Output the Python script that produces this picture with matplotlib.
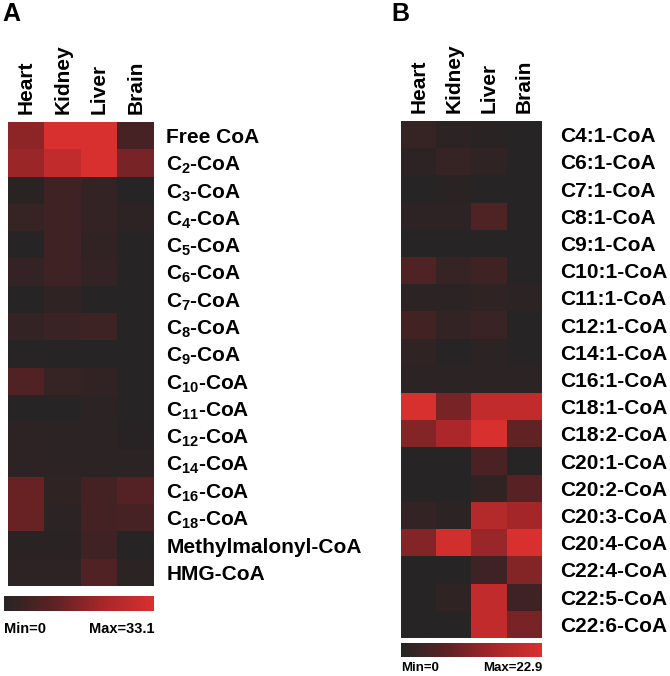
import numpy as np
import matplotlib
matplotlib.use("Agg")
import matplotlib.pyplot as plt
from matplotlib.colors import LinearSegmentedColormap

plt.rcParams['font.family'] = ['Liberation Sans', 'DejaVu Sans']
plt.rcParams['font.weight'] = 'bold'
plt.rcParams['mathtext.fontset'] = 'custom'
plt.rcParams['mathtext.rm'] = 'Liberation Sans:bold'
plt.rcParams['mathtext.bf'] = 'Liberation Sans:bold'
plt.rcParams['mathtext.default'] = 'bf'

tissues = ['Heart', 'Kidney', 'Liver', 'Brain']

# Panel A: short chain acyl-CoAs (Max=33.1)
rows_a = ['Free CoA', r'C$_{2}$-CoA', r'C$_{3}$-CoA', r'C$_{4}$-CoA', r'C$_{5}$-CoA',
          r'C$_{6}$-CoA', r'C$_{7}$-CoA', r'C$_{8}$-CoA', r'C$_{9}$-CoA', r'C$_{10}$-CoA',
          r'C$_{11}$-CoA', r'C$_{12}$-CoA', r'C$_{14}$-CoA', r'C$_{16}$-CoA', r'C$_{18}$-CoA',
          'Methylmalonyl-CoA', 'HMG-CoA']
heart_a  = [18.0, 20.0, 0.7, 3.3, 0.0, 2.6, 0.0, 2.6, 0.0, 8.3, 0.0, 1.7, 1.7, 12.6, 12.6, 1.0, 1.7]
kidney_a = [33.1, 28.0, 5.0, 5.0, 5.0, 5.0, 2.0, 4.0, 0.0, 3.3, 0.0, 1.3, 1.3, 2.0, 1.3, 1.0, 1.7]
liver_a  = [33.1, 33.1, 2.6, 2.6, 2.3, 2.6, 0.0, 4.6, 0.0, 2.3, 1.3, 1.3, 1.3, 6.0, 6.0, 5.0, 8.3]
brain_a  = [6.6, 15.0, 0.0, 1.7, 0.0, 0.0, 0.0, 0.0, 0.0, 0.0, 0.0, 0.3, 1.3, 9.3, 6.6, 0.0, 1.3]
max_a = 33.1

# Panel B: unsaturated acyl-CoAs (Max=22.9)
rows_b = ['C4:1-CoA', 'C6:1-CoA', 'C7:1-CoA', 'C8:1-CoA', 'C9:1-CoA', 'C10:1-CoA',
          'C11:1-CoA', 'C12:1-CoA', 'C14:1-CoA', 'C16:1-CoA', 'C18:1-CoA', 'C18:2-CoA',
          'C20:1-CoA', 'C20:2-CoA', 'C20:3-CoA', 'C20:4-CoA', 'C22:4-CoA', 'C22:5-CoA',
          'C22:6-CoA']
heart_b  = [2.3, 1.1, 0.0, 1.1, 0.0, 5.7, 0.9, 4.1, 1.4, 0.9, 22.9, 11.5, 0.0, 0.0, 1.8, 11.5, 0.0, 0.0, 0.0]
kidney_b = [0.9, 2.3, 0.5, 1.1, 0.0, 2.3, 0.9, 1.8, 0.0, 0.9, 10.3, 16.0, 0.0, 0.0, 0.9, 21.8, 0.0, 1.4, 0.0]
liver_b  = [0.5, 1.4, 0.0, 5.7, 0.0, 3.4, 1.4, 2.7, 0.9, 0.9, 19.5, 22.9, 5.0, 1.6, 17.2, 13.7, 3.4, 19.5, 19.5]
brain_b  = [0.0, 0.0, 0.0, 0.0, 0.0, 0.0, 0.9, 0.0, 0.0, 0.9, 19.5, 8.0, 0.0, 6.9, 14.9, 22.9, 11.5, 3.4, 10.3]
max_b = 22.9

cmap = LinearSegmentedColormap.from_list('kr', ['#262424', '#5e2224', '#a82729', '#d8302f'])

fig = plt.figure(figsize=(6.7, 6.76), dpi=100)
W, H = 670.0, 676.0


def box(x0, y0, x1, y1):
    return [x0 / W, 1 - y1 / H, (x1 - x0) / W, (y1 - y0) / H]


def panel(hm_box, cb_box, rows, cols, vmax, label_pad, letter, letter_xy, cb_label_y, cb_fs):
    data = np.array(cols).T
    ax = fig.add_axes(box(*hm_box))
    im = ax.imshow(data, cmap=cmap, vmin=0, vmax=vmax, aspect='auto', interpolation='nearest')
    ax.set_xticks(range(len(tissues)))
    ax.set_xticklabels(tissues, rotation=90, fontsize=15, fontweight='bold')
    ax.xaxis.tick_top()
    ax.set_yticks(range(len(rows)))
    ax.set_yticklabels(rows, fontsize=15, fontweight='bold')
    ax.yaxis.tick_right()
    ax.tick_params(length=0, axis='y', pad=label_pad)
    ax.tick_params(length=0, axis='x', pad=6)
    for s in ax.spines.values():
        s.set_visible(False)

    cax = fig.add_axes(box(*cb_box))
    cb = fig.colorbar(im, cax=cax, orientation='horizontal')
    cb.set_ticks([])
    cb.outline.set_visible(False)

    fig.text(cb_box[0] / W, 1 - cb_label_y / H, 'Min=0', ha='left', va='center',
             fontsize=cb_fs, fontweight='bold')
    fig.text(cb_box[2] / W, 1 - cb_label_y / H, 'Max=%.1f' % vmax, ha='right', va='center',
             fontsize=cb_fs, fontweight='bold')
    fig.text(letter_xy[0] / W, 1 - letter_xy[1] / H, letter, ha='left', va='center',
             fontsize=18, fontweight='bold')


panel((8, 122, 154, 586), (4, 596, 154, 611), rows_a,
      [heart_a, kidney_a, liver_a, brain_a], max_a, 9, 'A', (2, 14), 629, 10.5)
panel((401, 121, 542, 638), (401, 643, 542, 657), rows_b,
      [heart_b, kidney_b, liver_b, brain_b], max_b, 13, 'B', (391, 14), 668, 9.5)

fig.savefig('out.png', dpi=100)
